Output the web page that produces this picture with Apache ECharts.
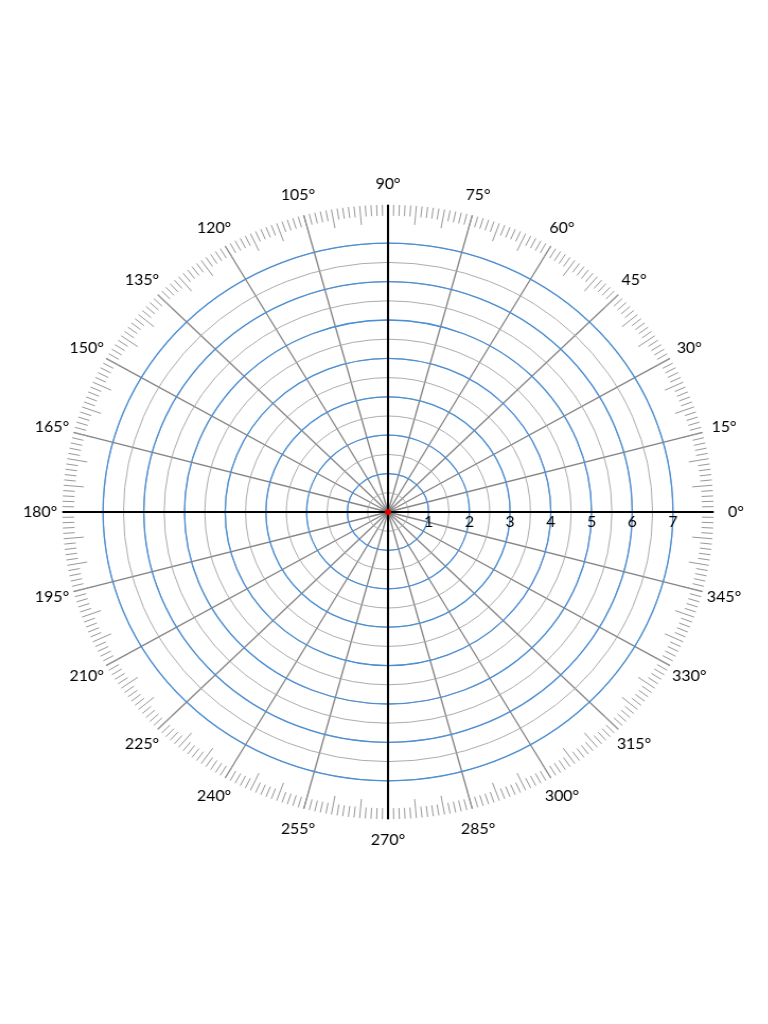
<!DOCTYPE html>
<html>
<head>
<meta charset="utf-8">
<script src="https://cdn.jsdelivr.net/npm/echarts@6/dist/echarts.min.js"></script>
<style>
  html, body { margin: 0; padding: 0; background: #fff; }
  #chart {
    width: 768px; height: 1024px;
    /* the reference sheet is slightly wider than tall */
    transform: scaleX(1.06);
    transform-origin: 388px 512px;
  }
</style>
</head>
<body>
<div id="chart"></div>
<script>
// polar graph paper: labelled rings, labelled angles, center mark
var ringLabels = [1, 2, 3, 4, 5, 6, 7];
var angleLabels = [0, 15, 30, 45, 60, 75, 90, 105, 120, 135, 150, 165,
                   180, 195, 210, 225, 240, 255, 270, 285, 300, 315, 330, 345];
var centerPoint = [[0, 0]];

var CENTER = [388, 512];
var UNIT = 38.4;           // px per ring unit
var OUTER = 8 * UNIT;      // edge of the degree scale
var LABEL_R = OUTER + 21;  // circle the degree labels are centred on
var FONT = 'Lato, "Open Sans", sans-serif';

function angleAxis(idx, interval, extra) {
  var a = {
    polarIndex: idx, type: 'value', min: 0, max: 360, interval: interval,
    startAngle: 0, clockwise: false,
    axisLine: { show: false }, axisTick: { show: false },
    axisLabel: { show: false }, splitLine: { show: false }
  };
  for (var k in extra) a[k] = extra[k];
  return a;
}
function radiusAxis(idx, max, extra) {
  var r = {
    polarIndex: idx, type: 'value', min: 0, max: max,
    axisLine: { show: false }, axisTick: { show: false },
    axisLabel: { show: false }, splitLine: { show: false }
  };
  for (var k in extra) r[k] = extra[k];
  return r;
}

var chart = echarts.init(document.getElementById('chart'), null, { renderer: 'canvas' });
var option = {
  backgroundColor: '#ffffff',
  animation: false,
  polar: [
    { center: CENTER, radius: OUTER },      // 0 rays
    { center: CENTER, radius: 7 * UNIT },   // 1 half rings
    { center: CENTER, radius: 7 * UNIT },   // 2 unit rings
    { center: CENTER, radius: OUTER },      // 3 main axes
    { center: CENTER, radius: OUTER },      // 4 degree scale
    { center: CENTER, radius: LABEL_R }     // 5 degree labels
  ],
  angleAxis: [
    angleAxis(0, 15, { z: 1, splitLine: { show: true, lineStyle: { color: '#858585', width: 1.3 } } }),
    angleAxis(1, 90, {}),
    angleAxis(2, 90, {}),
    angleAxis(3, 90, { z: 5, splitLine: { show: true, lineStyle: { color: '#000000', width: 2 } } }),
    angleAxis(4, 5, {
      z: 4,
      axisTick: { show: true, inside: true, length: 19, lineStyle: { color: '#999999', width: 1 } },
      minorTick: { show: true, splitNumber: 5, length: 11, lineStyle: { color: '#999999', width: 1 } }
    }),
    angleAxis(5, 90, {})
  ],
  radiusAxis: [
    radiusAxis(0, 8, {}),
    radiusAxis(1, 7, { z: 2, interval: 0.5,
      splitLine: { show: true, lineStyle: { color: '#a3a3a3', width: 0.9 } } }),
    radiusAxis(2, 7, { z: 3, interval: 1,
      splitLine: { show: true, lineStyle: { color: '#4a8fd6', width: 1.3 } },
      axisLabel: {
        show: true, margin: -3, verticalAlign: 'top', color: '#000', fontSize: 15, fontFamily: FONT,
        formatter: function (v) { return ringLabels.indexOf(v) >= 0 ? String(v) : ''; }
      }
    }),
    radiusAxis(3, 8, {}),
    radiusAxis(4, 8, {}),
    radiusAxis(5, 1, {})
  ],
  series: [
    {
      type: 'scatter', coordinateSystem: 'polar', polarIndex: 5,
      symbolSize: 1, z: 6, silent: true,
      itemStyle: { color: 'rgba(255,255,255,0)', opacity: 1 },
      label: {
        show: true, position: 'inside', align: 'center', verticalAlign: 'middle',
        color: '#000', fontSize: 15, fontFamily: FONT,
        formatter: function (p) { return p.value[1] + '°'; }
      },
      data: angleLabels.map(function (a) { return [1, a]; })
    },
    {
      type: 'scatter', coordinateSystem: 'polar', polarIndex: 0,
      symbolSize: 6, z: 10,
      itemStyle: { color: '#e00000', opacity: 1 },
      data: centerPoint
    }
  ]
};
chart.setOption(option);
window.addEventListener('resize', function () { chart.resize(); });
</script>
</body>
</html>
